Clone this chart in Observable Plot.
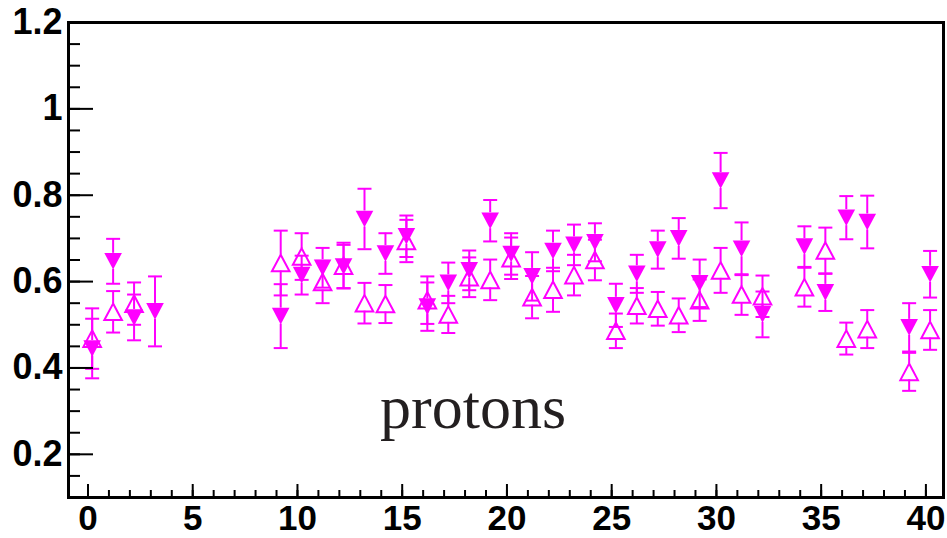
<!DOCTYPE html>
<html>
<head>
<meta charset="utf-8">
<script src="https://cdn.jsdelivr.net/npm/d3@7"></script>
<script src="https://cdn.jsdelivr.net/npm/@observablehq/plot@0.6"></script>
<style>
  html, body { margin: 0; padding: 0; background: #ffffff; }
  #chart svg { display: block; }
</style>
</head>
<body>
<div id="chart"></div>
<script>
// ---- data ----
const filledX   = [0.2, 1.2, 2.2, 3.2, 9.2, 10.2, 11.2, 12.2, 13.2, 14.2, 15.2, 16.2, 17.2, 18.2, 19.2, 20.2, 21.2, 22.2, 23.2, 24.2, 25.2, 26.2, 27.2, 28.2, 29.2, 30.2, 31.2, 32.2, 34.2, 35.2, 36.2, 37.2, 39.2, 40.2];
const filledVal = [0.445, 0.647, 0.517, 0.531, 0.520, 0.615, 0.632, 0.635, 0.745, 0.665, 0.705, 0.542, 0.597, 0.626, 0.741, 0.664, 0.612, 0.671, 0.685, 0.691, 0.545, 0.618, 0.674, 0.700, 0.596, 0.834, 0.676, 0.524, 0.681, 0.575, 0.748, 0.738, 0.494, 0.617];
const filledErr = [0.069, 0.052, 0.053, 0.081, 0.074, 0.045, 0.046, 0.050, 0.070, 0.047, 0.048, 0.056, 0.047, 0.046, 0.048, 0.048, 0.056, 0.047, 0.047, 0.044, 0.050, 0.044, 0.044, 0.047, 0.055, 0.064, 0.061, 0.053, 0.047, 0.043, 0.050, 0.061, 0.056, 0.054];

const openX   = [0.2, 1.2, 2.2, 9.2, 10.2, 11.2, 12.2, 13.2, 14.2, 15.2, 16.2, 17.2, 18.2, 19.2, 20.2, 21.2, 22.2, 23.2, 24.2, 25.2, 26.2, 27.2, 28.2, 29.2, 30.2, 31.2, 32.2, 34.2, 35.2, 36.2, 37.2, 39.2, 40.2];
const openVal = [0.468, 0.530, 0.549, 0.643, 0.658, 0.599, 0.637, 0.550, 0.548, 0.694, 0.557, 0.524, 0.610, 0.604, 0.654, 0.564, 0.581, 0.615, 0.650, 0.486, 0.544, 0.537, 0.522, 0.557, 0.626, 0.570, 0.566, 0.587, 0.672, 0.468, 0.490, 0.391, 0.488];
const openErr = [0.070, 0.048, 0.049, 0.075, 0.054, 0.049, 0.053, 0.047, 0.044, 0.049, 0.055, 0.043, 0.046, 0.047, 0.048, 0.049, 0.051, 0.047, 0.047, 0.040, 0.041, 0.039, 0.039, 0.048, 0.052, 0.047, 0.048, 0.045, 0.053, 0.037, 0.044, 0.044, 0.046];

const xTicks  = [0, 5, 10, 15, 20, 25, 30, 35, 40];
const xLabels = ["0", "5", "10", "15", "20", "25", "30", "35", "40"];
const yTicks  = [0.2, 0.4, 0.6, 0.8, 1, 1.2];
const yLabels = ["0.2", "0.4", "0.6", "0.8", "1", "1.2"];
const labelText = ["protons"];
const labelX = [18.38];
const labelY = [0.26];

// ---- layout ----
const W = 947, H = 538;
const mL = 68, mR = 4, mT = 22, mB = 41;
const plotW = W - mL - mR, plotH = H - mT - mB;
const magenta = "#ff00ff";
const gap = 8;

const filled = filledX.map((x, i) => ({x, v: filledVal[i], e: filledErr[i]}));
const open = openX.map((x, i) => ({x, v: openVal[i], e: openErr[i]}));
const allPts = filled.concat(open);

const xMinor = d3.range(0, 41, 1);
const yMinor = d3.range(3, 25).map(k => +(k * 0.05).toFixed(2));
const label = labelText.map((t, i) => ({t, x: labelX[i], y: labelY[i]}));

// custom marker symbols (bbox-centred)
const triDown = {draw(ctx, size) { const r = Math.sqrt(size / Math.PI); const w = r * 1.06;
  ctx.moveTo(-w, -r); ctx.lineTo(w, -r); ctx.lineTo(0, r); ctx.closePath(); }};
const triUp = {draw(ctx, size) { const r = Math.sqrt(size / Math.PI); const w = r * 1.06;
  ctx.moveTo(0, -r); ctx.lineTo(w, r); ctx.lineTo(-w, r); ctx.closePath(); }};
const cap = {draw(ctx, size) { const r = Math.sqrt(size / Math.PI);
  ctx.moveTo(-r, 0); ctx.lineTo(r, 0); }};

const chart = Plot.plot({
  width: W, height: H,
  marginLeft: mL, marginRight: mR, marginTop: mT, marginBottom: mB,
  x: {domain: [-0.93, 40.84], axis: null},
  y: {domain: [0.1, 1.2], axis: null},
  style: {fontFamily: "'Liberation Sans', Arial, Helvetica, sans-serif", background: "#ffffff", color: "#000"},
  marks: [
    // error bars (gap around the marker)
    Plot.ruleX(allPts, {x: "x", y1: d => d.v + d.e, y2: d => d.v, insetBottom: gap, stroke: magenta, strokeWidth: 2}),
    Plot.ruleX(allPts, {x: "x", y1: d => d.v, y2: d => d.v - d.e, insetTop: gap, stroke: magenta, strokeWidth: 2}),
    Plot.dot(allPts, {x: "x", y: d => d.v + d.e, symbol: cap, r: 7, fill: "none", stroke: magenta, strokeWidth: 2}),
    Plot.dot(allPts, {x: "x", y: d => d.v - d.e, symbol: cap, r: 7, fill: "none", stroke: magenta, strokeWidth: 2}),
    // markers
    Plot.dot(open, {x: "x", y: "v", symbol: triUp, r: 8.3, fill: "none", stroke: magenta, strokeWidth: 2}),
    Plot.dot(filled, {x: "x", y: "v", symbol: triDown, r: 8.3, fill: magenta, stroke: "none"}),
    // inward ticks
    Plot.tickY(yMinor, {y: d => d, insetRight: plotW - 12, stroke: "#000", strokeWidth: 2}),
    Plot.tickY(yTicks, {y: d => d, insetRight: plotW - 25, stroke: "#000", strokeWidth: 2}),
    Plot.tickX(xMinor, {x: d => d, insetTop: plotH - 7, stroke: "#000", strokeWidth: 2}),
    Plot.tickX(xTicks, {x: d => d, insetTop: plotH - 13, stroke: "#000", strokeWidth: 2}),
    Plot.frame({stroke: "#000", strokeWidth: 3}),
    // tick labels
    Plot.axisY({ticks: yTicks, tickFormat: d => yLabels[yTicks.indexOf(d)], tickSize: 0, tickPadding: 6,
      fontSize: 36, fontWeight: "bold", fill: "#000", label: null}),
    Plot.axisX({ticks: xTicks, tickFormat: d => xLabels[xTicks.indexOf(d)], tickSize: 0, tickPadding: 8,
      fontSize: 35, fontWeight: "bold", fill: "#000", label: null}),
    // annotation
    Plot.text(label, {x: "x", y: "y", text: "t", lineAnchor: "bottom", textAnchor: "middle",
      fontSize: 62, fontFamily: "'Liberation Serif', 'Times New Roman', serif", fill: "#231f20"})
  ]
});
document.getElementById("chart").appendChild(chart);
</script>
</body>
</html>
